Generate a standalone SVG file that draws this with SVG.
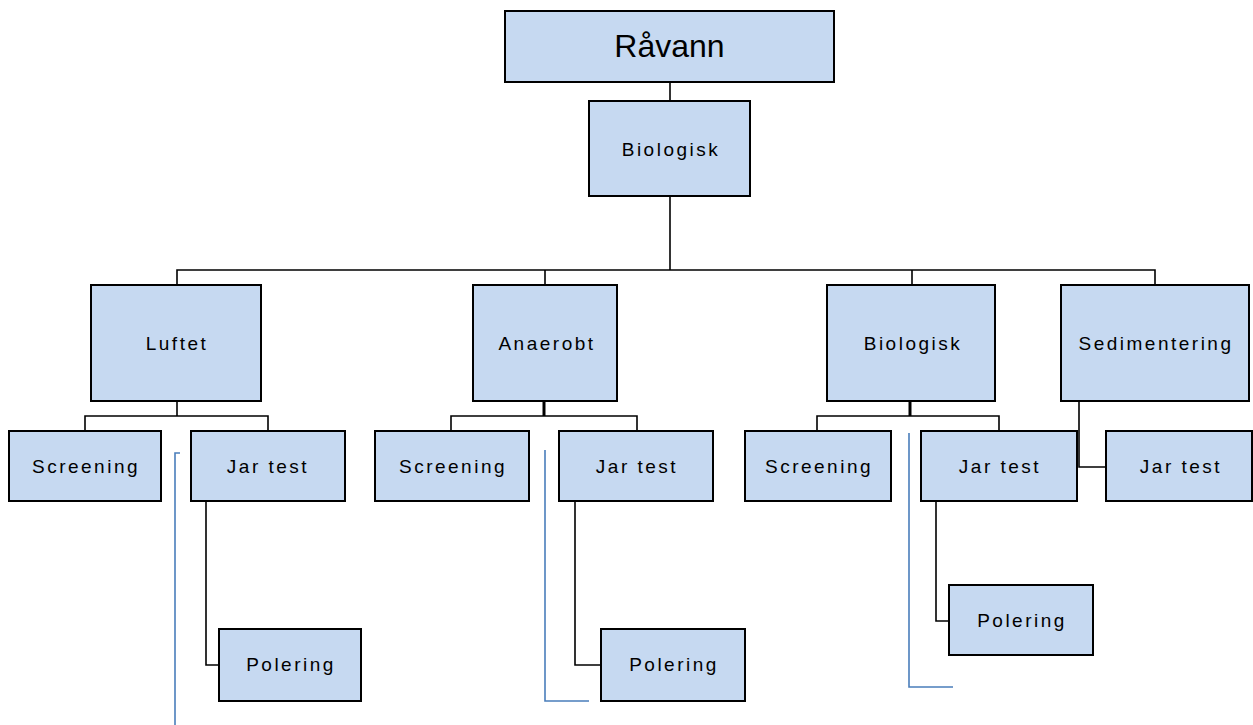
<svg xmlns="http://www.w3.org/2000/svg" width="1253" height="725" viewBox="0 0 1253 725">
<style>
.box{fill:#c6d9f1;stroke:#000;stroke-width:2}
.t{font-family:"Liberation Sans",Arial,sans-serif;font-size:19px;letter-spacing:2.5px;fill:#000;text-anchor:middle}
.big{font-family:"Liberation Sans",Arial,sans-serif;font-size:32px;fill:#000;text-anchor:middle}
.c{fill:none;stroke:#000;stroke-width:1.6}
.b{fill:none;stroke:#4a7ebb;stroke-width:1.6}
</style>
<rect width="1253" height="725" fill="#fff"/>
<g id="connectors">
<path class="c" d="M670 82V101"/>
<path class="c" d="M670 196V270"/>
<path class="c" d="M177 285V270H1155V285"/>
<path class="c" d="M545 270V285"/>
<path class="c" d="M912 270V285"/>
<path class="c" d="M177 401V416M85 431V416H268V431"/>
<path class="c" d="M544 401V416" style="stroke-width:3"/>
<path class="c" d="M451 431V416H637V431"/>
<path class="c" d="M910 401V416" style="stroke-width:3"/>
<path class="c" d="M817 431V416H999V431"/>
<path class="c" d="M1079 401V467H1106"/>
<path class="c" d="M206 501V665H219"/>
<path class="c" d="M575 501V665H601"/>
<path class="c" d="M936 501V621H949"/>
<path class="b" d="M180 453H175V725"/>
<path class="b" d="M545 450V701H589"/>
<path class="b" d="M909 433V687H953"/>
</g>
<g id="ravann"><rect class="box" x="505" y="11" width="329" height="71"/><text class="big" x="669.5" y="57">Råvann</text></g>
<g id="biologisk-top"><rect class="box" x="589" y="101" width="161" height="95"/><text class="t" x="671" y="156">Biologisk</text></g>
<g id="luftet"><rect class="box" x="91" y="285" width="170" height="116"/><text class="t" x="177" y="350">Luftet</text></g>
<g id="anaerobt"><rect class="box" x="473" y="285" width="144" height="116"/><text class="t" x="547" y="350">Anaerobt</text></g>
<g id="biologisk"><rect class="box" x="827" y="285" width="168" height="116"/><text class="t" x="913" y="350">Biologisk</text></g>
<g id="sedimentering"><rect class="box" x="1061" y="285" width="188" height="116"/><text class="t" x="1156" y="350">Sedimentering</text></g>
<g id="screening1"><rect class="box" x="9" y="431" width="152" height="70"/><text class="t" x="86" y="473">Screening</text></g>
<g id="jartest1"><rect class="box" x="191" y="431" width="154" height="70"/><text class="t" x="268" y="473">Jar test</text></g>
<g id="screening2"><rect class="box" x="375" y="431" width="154" height="70"/><text class="t" x="453" y="473">Screening</text></g>
<g id="jartest2"><rect class="box" x="559" y="431" width="154" height="70"/><text class="t" x="637" y="473">Jar test</text></g>
<g id="screening3"><rect class="box" x="745" y="431" width="146" height="70"/><text class="t" x="819" y="473">Screening</text></g>
<g id="jartest3"><rect class="box" x="921" y="431" width="156" height="70"/><text class="t" x="1000" y="473">Jar test</text></g>
<g id="jartest4"><rect class="box" x="1106" y="431" width="146" height="70"/><text class="t" x="1181" y="473">Jar test</text></g>
<g id="polering1"><rect class="box" x="219" y="629" width="142" height="72"/><text class="t" x="291" y="671">Polering</text></g>
<g id="polering2"><rect class="box" x="601" y="629" width="144" height="72"/><text class="t" x="674" y="671">Polering</text></g>
<g id="polering3"><rect class="box" x="949" y="585" width="144" height="70"/><text class="t" x="1022" y="627">Polering</text></g>
</svg>
